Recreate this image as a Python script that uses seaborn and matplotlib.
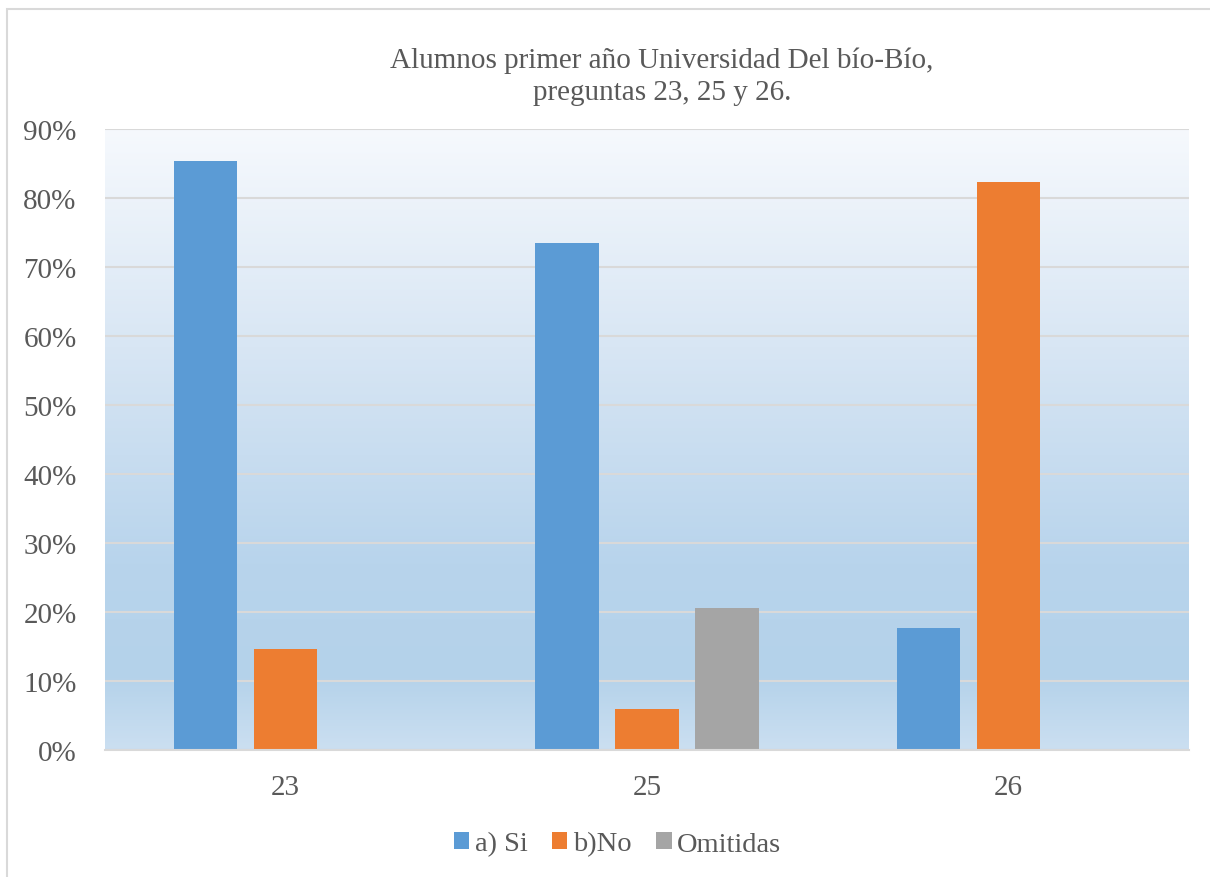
import numpy as np
import pandas as pd
import matplotlib.pyplot as plt
import seaborn as sns
from matplotlib.colors import LinearSegmentedColormap
from matplotlib.patches import Rectangle
from matplotlib.ticker import FuncFormatter

# data
preguntas = ['23', '25', '26']
respuestas = ['a) Si', 'b)No', 'Omitidas']
si = [0.853, 0.735, 0.177]
no = [0.147, 0.059, 0.823]
omitidas = [0.0, 0.206, 0.0]
colores = ['#5B9BD5', '#ED7D31', '#A5A5A5']

df = pd.DataFrame({'pregunta': preguntas * 3,
                   'respuesta': [r for r in respuestas for _ in preguntas],
                   'valor': si + no + omitidas})

sns.set_theme(style='white')
plt.rcParams['font.family'] = ['Liberation Serif', 'DejaVu Serif']
txt = '#595959'

fig = plt.figure(figsize=(12.1, 8.78), dpi=100)
ax = fig.add_axes([105 / 1210, 1 - 751 / 878, 1084 / 1210, 621 / 878])

# outer chart border
fig.patches.append(Rectangle((7 / 1210, -0.01), 1.2, 1 - 10 / 878 + 0.01,
                             transform=fig.transFigure, fill=False,
                             edgecolor='#d9d9d9', linewidth=1.5))

sns.barplot(data=df, x='pregunta', y='valor', hue='respuesta', order=preguntas,
            hue_order=respuestas, palette=colores, width=0.665, gap=0.21,
            saturation=1, ax=ax, legend=True, edgecolor='none', linewidth=0)

ax.set_ylim(0, 0.9)
ax.set_xlim(-0.5, 2.5)

# gradient background of the plot area
grad = LinearSegmentedColormap.from_list(
    'fondo', [(0, '#cbdff1'), (0.12, '#b4d2ea'), (0.3, '#b8d4ec'),
              (0.65, '#d8e6f4'), (1, '#f6f9fd')])
ax.imshow(np.linspace(0, 1, 256).reshape(-1, 1), cmap=grad, origin='lower',
          extent=[-0.5, 2.5, 0, 0.9], aspect='auto', zorder=0)

ax.set_yticks(np.arange(0, 0.91, 0.1))
ax.yaxis.set_major_formatter(FuncFormatter(lambda v, p: f'{v * 100:.0f}%'))
ax.grid(axis='y', color='#d9d9d9', linewidth=1.5)
ax.set_axisbelow(True)
for g in ax.get_ygridlines():
    g.set_zorder(0.5)
for s in ['top', 'right', 'left']:
    ax.spines[s].set_visible(False)
ax.spines['bottom'].set_color('#d9d9d9')
ax.spines['bottom'].set_linewidth(1.5)
ax.tick_params(axis='y', length=0, pad=20.5, labelsize=21, labelcolor=txt)
ax.tick_params(axis='x', length=0, pad=17.5, labelsize=21, labelcolor=txt)
ax.set_xlabel('')
ax.set_ylabel('')

fig.text(662 / 1210, 1 - 77 / 878,
         'Alumnos primer año Universidad Del bío-Bío,\npreguntas 23, 25 y 26.',
         ha='center', va='center', fontsize=21, color=txt, linespacing=1.3)

handles, labels = ax.get_legend_handles_labels()
ax.get_legend().remove()
fig.legend(handles, labels, loc='center', bbox_to_anchor=(617.5 / 1210, 1 - 845 / 878),
           ncol=3, frameon=False, fontsize=20.5, labelcolor=txt,
           handlelength=0.55, handleheight=0.55, handletextpad=0.2,
           columnspacing=0.85)

fig.savefig('out.png', dpi=100)
